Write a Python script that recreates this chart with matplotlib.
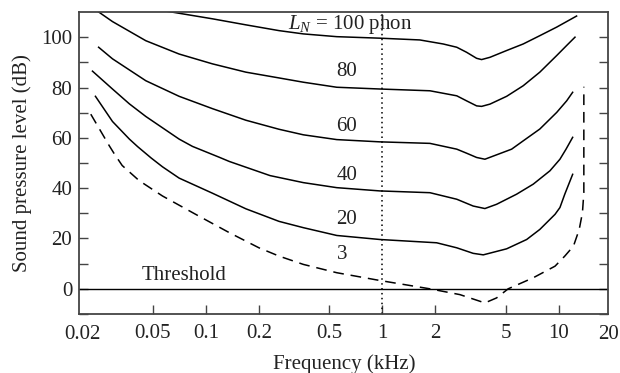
import matplotlib
matplotlib.use("Agg")
import matplotlib.pyplot as plt
from matplotlib.ticker import FixedLocator, NullFormatter, FixedFormatter

plt.rcParams['font.family'] = ['Liberation Serif', 'DejaVu Serif']
plt.rcParams['mathtext.fontset'] = 'custom'
plt.rcParams['mathtext.it'] = 'Liberation Serif:italic'
plt.rcParams['mathtext.rm'] = 'Liberation Serif'

# Equal-loudness contours, frequency in kHz, level in dB
f100 = [0.0568, 0.109, 0.1686, 0.26, 0.357, 0.552, 0.97, 1.63, 2.21, 2.64, 3.0, 3.42, 3.65,
        4.07, 5.06, 6.28, 7.8, 9.72, 12.6]
l100 = [110.6, 107.3, 104.9, 102.6, 101.3, 100.2, 99.6, 98.9, 97.3, 96.0, 94.0, 91.6, 91.1,
        92.0, 94.7, 97.3, 100.6, 104.0, 108.4]

f80 = [0.0245, 0.0296, 0.0457, 0.0706, 0.109, 0.1686, 0.26, 0.357, 0.552, 0.97, 1.86, 2.64,
       3.0, 3.42, 3.65, 4.07, 5.06, 6.28, 7.8, 9.72, 11.07, 12.34]
l80 = [110.2, 106.2, 98.6, 93.3, 89.4, 86.1, 83.8, 82.1, 80.1, 79.4, 78.7, 76.7,
       74.7, 72.7, 72.5, 73.4, 76.5, 80.7, 86.1, 92.7, 96.7, 100.0]

f60 = [0.0247, 0.0296, 0.0457, 0.0706, 0.109, 0.1686, 0.26, 0.357, 0.552, 0.97, 1.86, 2.64,
       3.0, 3.42, 3.81, 5.4, 6.28, 7.8, 9.72, 11.07, 11.97]
l60 = [96.0, 91.4, 82.7, 76.5, 71.6, 67.0, 63.4, 61.2, 59.3, 58.4, 57.8, 55.5,
       53.9, 52.2, 51.5, 55.5, 58.8, 63.5, 70.1, 74.7, 78.1]

f40 = [0.0228, 0.0296, 0.0369, 0.0457, 0.0706, 0.084, 0.119, 0.136, 0.231, 0.357, 0.552,
       0.97, 1.86, 2.64, 3.27, 3.81, 4.44, 5.76, 7.16, 8.9, 10.14, 10.98, 11.97]
l40 = [86.5, 79.4, 73.5, 68.5, 59.5, 56.6, 52.3, 50.6, 45.0, 42.2, 40.2,
       38.9, 38.2, 35.6, 32.9, 31.9, 33.6, 37.6, 41.6, 46.9, 51.5, 55.5, 60.2]

f20 = [0.0237, 0.0296, 0.0369, 0.0411, 0.049, 0.0568, 0.0706, 0.109, 0.1686, 0.26, 0.357,
       0.552, 0.97, 2.03, 2.64, 3.27, 3.73, 5.06, 6.57, 7.8, 9.51, 10.14, 10.8, 11.97]
l20 = [76.5, 66.5, 59.5, 56.5, 52.0, 48.5, 44.0, 38.0, 31.8, 26.8, 24.3,
       21.2, 19.6, 18.3, 16.3, 14.1, 13.5, 15.9, 19.6, 23.6, 29.6, 32.3, 37.6, 45.5]

# threshold curve (3 phon, dashed)
f3 = [0.0223, 0.0283, 0.0304, 0.0336, 0.0419, 0.0568, 0.0876, 0.136, 0.2, 0.26, 0.357,
      0.552, 0.97, 1.86, 2.75, 3.81, 4.44, 5.16, 7.16, 9.51, 10.8, 12.1, 13.04, 13.6,
      13.85, 13.85]
l3 = [69.4, 57.0, 53.5, 49.0, 43.0, 36.9, 29.6, 22.3, 16.3, 13.0, 9.7,
      6.4, 3.3, 0.0, -2.3, -5.6, -3.6, 0.0, 4.4, 9.0, 13.0, 17.0, 23.6, 30.3,
      38.2, 80.3]

xticks = [0.05, 0.1, 0.2, 0.5, 1, 2, 5, 10]
xtick_labels = ["0.05", "0.1", "0.2", "0.5", "1", "2", "5", "10"]

fig = plt.figure(figsize=(6.2, 3.73), dpi=100)
ax = fig.add_axes([0.1279, 0.1582, 0.8532, 0.8096])

frame = '#444444'
txt = '#222222'
fs = 15

ax.axhline(0, color='black', lw=1.0)
ax.axvline(1, color='black', lw=1.1, ls=(0, (1, 2.2)))

for f, l in [(f100, l100), (f80, l80), (f60, l60), (f40, l40), (f20, l20)]:
    ax.plot(f, l, color='black', lw=1.1)
ax.plot(f3, l3, color='black', lw=1.1, ls=(0, (7, 4.5)))

ax.set_xscale('log')
ax.set_xlim(0.0192, 19.05)
ax.set_ylim(-10, 110)

ax.xaxis.set_major_locator(FixedLocator(xticks))
ax.xaxis.set_minor_locator(FixedLocator([]))
ax.xaxis.set_major_formatter(FixedFormatter(xtick_labels))
ax.xaxis.set_minor_formatter(NullFormatter())
# edge labels sit at/outside the axis limits
ax.text(0.02, -0.035, "0.02", transform=ax.get_xaxis_transform(), ha='center', va='top',
        fontsize=fs, color=txt)
ax.text(1.0202, -0.035, "20", transform=ax.transAxes, ha='right', va='top',
        fontsize=fs, color=txt)

ax.yaxis.set_major_locator(FixedLocator([0, 20, 40, 60, 80, 100]))
ax.yaxis.set_minor_locator(FixedLocator([-10, 10, 30, 50, 70, 90]))
ax.tick_params(which='both', direction='in', length=6.5, width=1.0, color=frame,
               labelsize=fs, labelcolor=txt, right=True, top=False, labelright=False)
ax.tick_params(axis='x', pad=7)
ax.tick_params(axis='y', pad=5)

for s in ax.spines.values():
    s.set_color(frame)
    s.set_linewidth(1.3)

ax.set_xlabel('Frequency (kHz)', fontsize=fs, color=txt, labelpad=8)
ax.set_ylabel('Sound pressure level (dB)', fontsize=fs, color=txt, labelpad=7)

ax.text(0.66, 105.0, r'$L_N$ = 100 phon', fontsize=fs, ha='center', va='center', color=txt)
ax.text(0.63, 86.4, '80', fontsize=fs, ha='center', va='center', color=txt)
ax.text(0.63, 64.5, '60', fontsize=fs, ha='center', va='center', color=txt)
ax.text(0.63, 45.1, '40', fontsize=fs, ha='center', va='center', color=txt)
ax.text(0.63, 27.5, '20', fontsize=fs, ha='center', va='center', color=txt)
ax.text(0.59, 13.7, '3', fontsize=fs, ha='center', va='center', color=txt)
ax.text(0.0433, 5.2, 'Threshold', fontsize=fs, ha='left', va='center', color=txt)

fig.savefig('out.png', dpi=100)
